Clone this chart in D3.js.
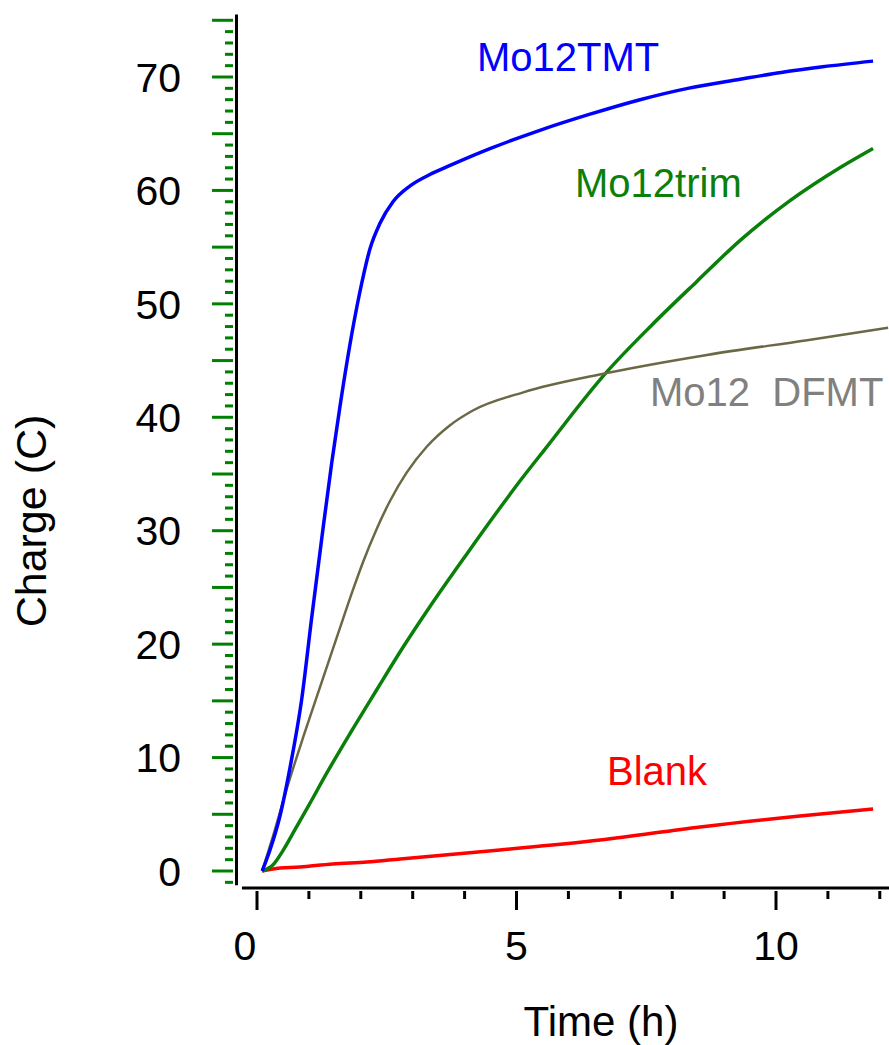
<!DOCTYPE html>
<html><head><meta charset="utf-8">
<script src="https://cdn.jsdelivr.net/npm/d3@7"></script>
<style>html,body{margin:0;padding:0;background:#fff;} text{font-family:"Liberation Sans",Arial,sans-serif;}</style>
</head><body>
<svg id="c" width="889" height="1045"></svg>
<script>
const tmtTime = [0.1,0.25,0.44,0.64,0.86,1.05,1.25,1.44,1.6,1.79,1.98,2.18,2.37,2.62,2.95,3.33,3.72,4.5,5.45,6.4,7.38,8.3,9.31,10.1,10.9,11.87];
const tmtCharge = [0,1.85,4.8,9.2,15.1,22.2,29.4,36.0,41.0,46.4,51.0,54.9,57.1,59.0,60.4,61.4,62.2,63.7,65.3,66.7,68.0,69.0,69.8,70.4,70.9,71.4];
const dfmtTime = [0.1,0.31,0.57,0.89,1.25,1.56,1.85,2.04,2.31,2.56,2.88,3.27,3.72,4.16,5.13,6.74,8.67,10.6,12.16];
const dfmtCharge = [0,3.1,7.2,11.8,16.7,20.9,24.8,27.2,30.2,32.6,35.1,37.4,39.3,40.6,42.2,43.9,45.5,46.8,47.9];
const trimTime = [0.1,0.3,0.5,0.75,1.0,1.34,1.79,2.31,2.81,3.33,4.05,4.68,5.07,5.55,6.74,7.6,8.48,9.31,10.27,11.23,11.87];
const trimCharge = [0,0.5,1.8,3.8,5.8,8.6,12.1,16.0,19.7,23.3,28.0,32.0,34.4,37.2,44.0,48.1,52.0,55.6,59.1,62.0,63.7];
const blankTime = [0.1,0.31,0.83,1.46,2.12,2.76,4.68,6.61,8.54,10.46,11.87];
const blankCharge = [0,0.18,0.35,0.62,0.79,1.06,1.85,2.73,3.88,4.85,5.47];
const yTickLabels = [0,10,20,30,40,50,60,70];
const xTickLabels = [0,5,10];
const seriesNames = ["Mo12TMT","Mo12trim","Mo12  DFMT","Blank"];

const svg = d3.select("#c");
const x = d3.scaleLinear().domain([0,12]).range([257,879.8]);
const y = d3.scaleLinear().domain([0,70]).range([871,77]);

// y axis
const yMinor = d3.range(-1,76,1).filter(v=>v%5!==0);
const yMajor = d3.range(0,76,5);
svg.append("line").attr("x1",236.5).attr("x2",236.5).attr("y1",y(75.5)).attr("y2",y(-1.25))
  .attr("stroke","#000").attr("stroke-width",3);
svg.selectAll(".ymi").data(yMinor).join("line").attr("x1",225).attr("x2",233)
  .attr("y1",d=>y(d)).attr("y2",d=>y(d)).attr("stroke","#008000").attr("stroke-width",3);
svg.selectAll(".yma").data(yMajor).join("line").attr("x1",212).attr("x2",233)
  .attr("y1",d=>y(d)).attr("y2",d=>y(d)).attr("stroke","#008000").attr("stroke-width",3);
svg.selectAll(".yl").data(yTickLabels).join("text").attr("x",181).attr("y",d=>y(d))
  .attr("dy","0.36em").attr("text-anchor","end").attr("font-size",41).attr("fill","#000").text(d=>d);

// x axis
svg.append("line").attr("x1",x(-0.29)).attr("x2",889).attr("y1",888).attr("y2",888)
  .attr("stroke","#000").attr("stroke-width",3);
const xMinor = d3.range(0,13,1).filter(v=>v%5!==0);
svg.selectAll(".xmi").data(xMinor).join("line").attr("x1",d=>x(d)).attr("x2",d=>x(d))
  .attr("y1",891).attr("y2",899).attr("stroke","#000").attr("stroke-width",3);
svg.selectAll(".xma").data(xTickLabels).join("line").attr("x1",d=>x(d)).attr("x2",d=>x(d))
  .attr("y1",891).attr("y2",910).attr("stroke","#000").attr("stroke-width",3);
svg.selectAll(".xl").data(xTickLabels).join("text").attr("x",d=>x(d)).attr("dx",d=>d===0?-12:0).attr("y",960)
  .attr("text-anchor","middle").attr("font-size",41).attr("fill","#000").text(d=>d);

// titles
svg.append("text").attr("x",601).attr("y",1036).attr("text-anchor","middle").attr("font-size",42).text("Time (h)");
svg.append("text").attr("transform","translate(46,521) rotate(-90)").attr("text-anchor","middle").attr("font-size",43).text("Charge (C)");

// lines
const line = d3.line().x(d=>x(d[0])).y(d=>y(d[1])).curve(d3.curveMonotoneX);
const series = [
  {t:blankTime,v:blankCharge,c:"#ff0000",w:3.5},
  {t:trimTime,v:trimCharge,c:"#0a800a",w:3.5},
  {t:dfmtTime,v:dfmtCharge,c:"#6b6945",w:2.5},
  {t:tmtTime,v:tmtCharge,c:"#0000ff",w:3.5}
];
series.forEach(s=>{
  svg.append("path").datum(d3.zip(s.t,s.v)).attr("d",line).attr("fill","none")
    .attr("stroke",s.c).attr("stroke-width",s.w).attr("stroke-linejoin","round");
});

// series labels
const labels = [
  {n:seriesNames[0],x:477,y:71,c:"#0000ff"},
  {n:seriesNames[1],x:575,y:197,c:"#0a800a"},
  {n:seriesNames[2],x:650,y:406,c:"#808080"},
  {n:seriesNames[3],x:607,y:785,c:"#ff0000"}
];
labels.forEach(l=>{
  svg.append("text").attr("x",l.x).attr("y",l.y).attr("font-size",40).attr("fill",l.c)
    .style("white-space","pre").text(l.n);
});
</script>
</body></html>
